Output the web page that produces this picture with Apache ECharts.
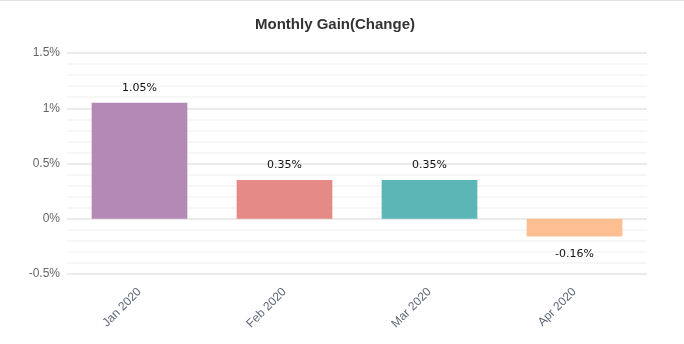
<!DOCTYPE html>
<html>
<head>
<meta charset="utf-8">
<script src="https://cdn.jsdelivr.net/npm/echarts@6/dist/echarts.min.js"></script>
<style>
  html, body { margin: 0; padding: 0; background: #fff; }
  #chart { width: 684px; height: 344px; }
</style>
</head>
<body>
<div id="chart"></div>
<script>
// Monthly gain per month, in percent
const months = ['Jan 2020', 'Feb 2020', 'Mar 2020', 'Apr 2020'];
const gains = [1.05, 0.35, 0.35, -0.16];
const barColors = ['#b589b6', '#e58a87', '#5bb6b5', '#fdbf92'];
const yTicks = { min: -0.5, max: 1.5, step: 0.5 };

const chart = echarts.init(document.getElementById('chart'), null, { renderer: 'canvas' });

const fmtTick = v => {
  const r = Math.round(v * 10) / 10;
  return r + '%';
};

chart.setOption({
  animation: false,
  graphic: [{
    type: 'rect',
    shape: { x: 0, y: 0, width: 684, height: 1 },
    style: { fill: '#e2e2e2' },
    silent: true
  }],
  title: {
    text: 'Monthly Gain(Change)',
    left: 250,
    top: 12,
    textStyle: { fontFamily: 'Liberation Sans, Arial, sans-serif', fontSize: 15, fontWeight: 'bold', color: '#333' }
  },
  grid: { left: 67, right: 37, top: 53, bottom: 70 },
  xAxis: {
    type: 'category',
    data: months,
    axisLine: { show: false },
    axisTick: { show: false },
    axisLabel: {
      rotate: 45,
      margin: 16,
      fontFamily: 'Liberation Sans, Arial, sans-serif',
      fontSize: 12,
      color: '#5f6878'
    }
  },
  yAxis: {
    type: 'value',
    min: yTicks.min,
    max: yTicks.max,
    interval: yTicks.step,
    axisLine: { show: false },
    axisTick: { show: false },
    axisLabel: {
      formatter: fmtTick,
      margin: 7,
      fontFamily: 'Liberation Sans, Arial, sans-serif',
      fontSize: 12,
      color: '#666'
    },
    splitLine: { lineStyle: { color: '#ebebeb', width: 2 } },
    minorTick: { show: false, splitNumber: 5 },
    minorSplitLine: { show: true, lineStyle: { color: '#f7f7f7', width: 2 } }
  },
  series: [{
    type: 'bar',
    data: gains.map((v, i) => ({
      value: v,
      itemStyle: { color: barColors[i] },
      label: { distance: v < 0 ? 12 : 9 }
    })),
    barWidth: '66%',
    label: {
      show: true,
      position: 'outside',
      formatter: p => p.value.toFixed(2) + '%',
      fontFamily: 'DejaVu Sans, sans-serif',
      fontSize: 11,
      color: '#111'
    }
  }]
});
</script>
</body>
</html>
